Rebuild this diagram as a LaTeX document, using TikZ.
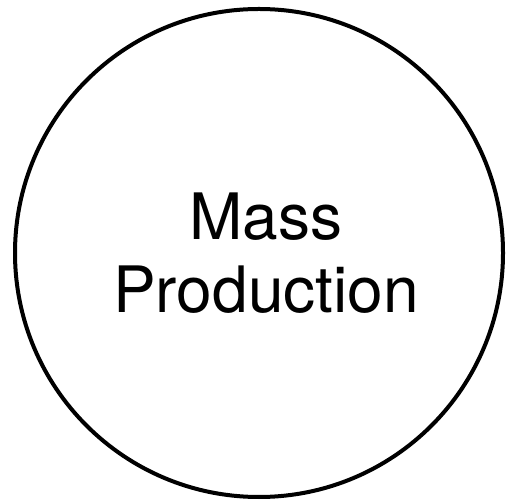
\documentclass[tikz,border=0pt]{standalone}
\usepackage{fontspec}
\setmainfont{TeX Gyre Heros}
\begin{document}
\begin{tikzpicture}[x=1pt,y=1pt,
  ring/.style={draw=black,line width=4pt,circle,minimum size=488pt,inner sep=0pt},
  label/.style={font=\fontsize{64}{73}\selectfont,inner sep=0pt,anchor=base}]
\useasboundingbox (0,0) rectangle (508,503);
\node[ring] (c) at (259,250) {};
\node[label] (mass) at (266,263) {Mass};
\node[label] (prod) at (266,190) {Production};
\end{tikzpicture}
\end{document}
